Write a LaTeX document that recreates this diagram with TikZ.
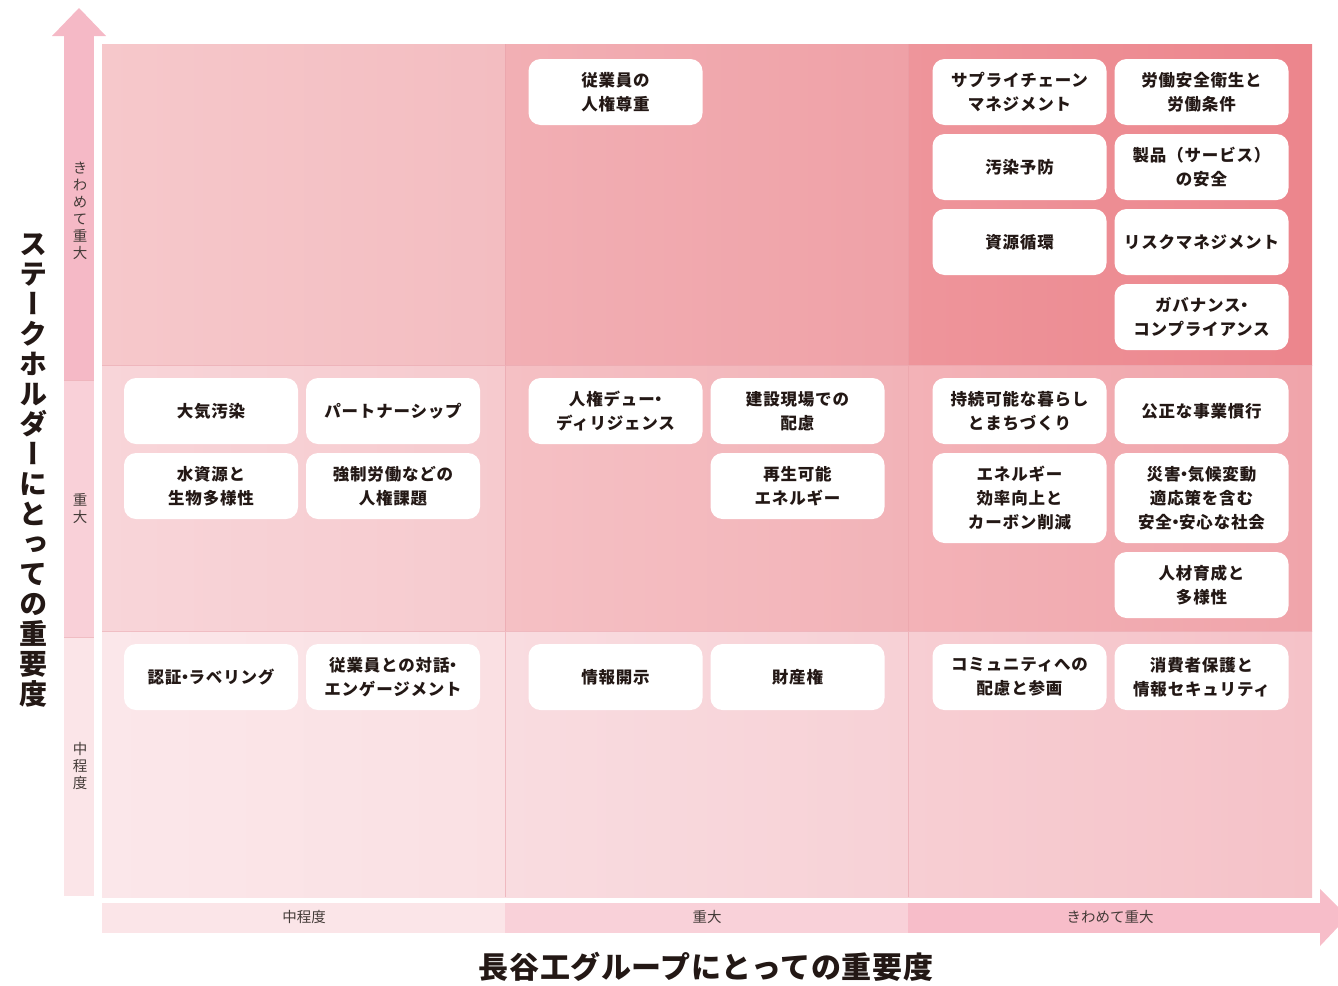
\documentclass[tikz,border=0pt]{standalone}
\usepackage{fontspec}
\setmainfont{Noto Sans CJK JP}
\newfontfamily\vfont[RawFeature={+vert}]{Noto Sans CJK JP}
\newfontfamily\boxfont[LetterSpace=5]{Noto Sans CJK JP}
\usetikzlibrary{positioning}
\newcommand{\ndot}{\kern-0.28em・\kern-0.28em}
\definecolor{txt}{HTML}{231815}
\definecolor{cAa}{HTML}{F6C8CB}\definecolor{cAb}{HTML}{F3BDC1}
\definecolor{cBa}{HTML}{F2AFB4}\definecolor{cBb}{HTML}{EFA1A7}
\definecolor{cCa}{HTML}{EE959B}\definecolor{cCb}{HTML}{EC858C}
\definecolor{cDa}{HTML}{F8D5D9}\definecolor{cDb}{HTML}{F6CACE}
\definecolor{cEa}{HTML}{F5C0C4}\definecolor{cEb}{HTML}{F2B3B8}
\definecolor{cFa}{HTML}{F3B2B7}\definecolor{cFb}{HTML}{F0A4AA}
\definecolor{cGa}{HTML}{FBE7EA}\definecolor{cGb}{HTML}{FAE0E3}
\definecolor{cHa}{HTML}{F9DCE0}\definecolor{cHb}{HTML}{F7D1D6}
\definecolor{cIa}{HTML}{F7CED3}\definecolor{cIb}{HTML}{F5C2C8}
\definecolor{ax1}{HTML}{F5B9C6}\definecolor{ax2}{HTML}{F9D0D8}\definecolor{ax3}{HTML}{FBE5E8}
\definecolor{bx1}{HTML}{FBE5E8}\definecolor{bx2}{HTML}{F9D1D9}\definecolor{bx3}{HTML}{F7BDC9}
\definecolor{gridln}{HTML}{E9A3AB}
\tikzset{
  item/.style={fill=white, rounded corners=12pt, minimum width=174pt, minimum height=66pt,
    align=center, font=\boxfont\bfseries\fontsize{16.5}{24}\selectfont, text=txt, inner sep=0pt},
  tallitem/.style={item, minimum height=90pt},
  lvl/.style={font=\fontsize{14.5}{17}\selectfont, text=txt!85, align=center, inner sep=0pt},
  vlvl/.style={font=\vfont\fontsize{14.5}{17}\selectfont, text=txt!85, align=center, inner sep=0pt},
}
\begin{document}
\begin{tikzpicture}[x=1pt,y=-1pt]
\useasboundingbox (0,0) rectangle (1338,985);
% cells
\shade[left color=cAa,right color=cAb] (102,44) rectangle (505,365);
\shade[left color=cBa,right color=cBb] (505,44) rectangle (908,365);
\shade[left color=cCa,right color=cCb] (908,44) rectangle (1312,365);
\shade[left color=cDa,right color=cDb] (102,365) rectangle (505,631);
\shade[left color=cEa,right color=cEb] (505,365) rectangle (908,631);
\shade[left color=cFa,right color=cFb] (908,365) rectangle (1312,631);
\shade[left color=cGa,right color=cGb] (102,631) rectangle (505,897);
\shade[left color=cHa,right color=cHb] (505,631) rectangle (908,897);
\shade[left color=cIa,right color=cIb] (908,631) rectangle (1312,897);
\draw[gridln, line width=0.6pt, opacity=0.6] (505,44) -- (505,897) (908,44) -- (908,897)
  (102,365) -- (1312,365) (102,631) -- (1312,631);
% vertical axis arrow
\fill[ax1] (52,36) -- (79,8) -- (106,36) -- cycle;
\fill[ax1] (64,36) rectangle (94,380);
\fill[ax2] (64,380) rectangle (94,637);
\fill[ax3] (64,637) rectangle (94,896);
\draw[gridln, line width=0.5pt, opacity=0.6] (64,380) -- (94,380) (64,637) -- (94,637);
% horizontal axis arrow
\fill[bx1] (102,903) rectangle (505,933);
\fill[bx2] (505,903) rectangle (908,933);
\fill[bx3] (908,903) rectangle (1320,933);
\fill[bx3] (1320,889) -- (1338,907) -- (1338,927) -- (1320,946) -- cycle;
% level labels
\node[vlvl] (vl1) at (80,211) {き\\わ\\め\\て\\重\\大};
\node[vlvl] (vl2) at (80,509) {重\\大};
\node[vlvl] (vl3) at (80,766) {中\\程\\度};
\node[lvl] (hl1) at (304,917) {中程度};
\node[lvl] (hl2) at (707,917) {重大};
\node[lvl] (hl3) at (1110,917) {きわめて重大};
% axis titles
\node[font=\vfont\bfseries\fontsize{28}{30}\selectfont, text=txt, align=center, inner sep=0pt] (ytitle) at (33,470)
  {ス\\テ\\ー\\ク\\ホ\\ル\\ダ\\ー\\に\\と\\っ\\て\\の\\重\\要\\度};
\node[font=\bfseries\fontsize{30}{32}\selectfont, text=txt, inner sep=0pt] (xtitle) at (706,967)
  {\addfontfeatures{LetterSpace=2}長谷工グループにとっての重要度};
% top row
\node[item] (a1) at (615.5,92) {従業員の\\人権尊重};
\node[item] (a2) at (1019.5,92) {サプライチェーン\\マネジメント};
\node[item] (a3) at (1201.5,92) {労働安全衛生と\\労働条件};
\node[item] (a4) at (1019.5,167) {汚染予防};
\node[item] (a5) at (1201.5,167) {製品（サービス）\\の安全};
\node[item] (a6) at (1019.5,242) {資源循環};
\node[item] (a7) at (1201.5,242) {リスクマネジメント};
\node[item] (a8) at (1201.5,317) {ガバナンス\ndot\\コンプライアンス};
% middle row
\node[item] (b1) at (211,411) {大気汚染};
\node[item] (b2) at (393,411) {パートナーシップ};
\node[item] (b3) at (211,486) {水資源と\\生物多様性};
\node[item] (b4) at (393,486) {強制労働などの\\人権課題};
\node[item] (b5) at (615.5,411) {人権デュー\ndot\\ディリジェンス};
\node[item] (b6) at (797.5,411) {建設現場での\\配慮};
\node[item] (b7) at (797.5,486) {再生可能\\エネルギー};
\node[item] (b8) at (1019.5,411) {持続可能な暮らし\\とまちづくり};
\node[item] (b9) at (1201.5,411) {公正な事業慣行};
\node[tallitem] (b10) at (1019.5,498) {エネルギー\\効率向上と\\カーボン削減};
\node[tallitem] (b11) at (1201.5,498) {災害\ndot 気候変動\\適応策を含む\\安全\ndot 安心な社会};
\node[item] (b12) at (1201.5,585) {人材育成と\\多様性};
% bottom row
\node[item] (c1) at (211,677) {認証\ndot ラベリング};
\node[item] (c2) at (393,677) {従業員との対話\ndot\\エンゲージメント};
\node[item] (c3) at (615.5,677) {情報開示};
\node[item] (c4) at (797.5,677) {財産権};
\node[item] (c5) at (1019.5,677) {コミュニティへの\\配慮と参画};
\node[item] (c6) at (1201.5,677) {消費者保護と\\情報セキュリティ};
\end{tikzpicture}
\end{document}
